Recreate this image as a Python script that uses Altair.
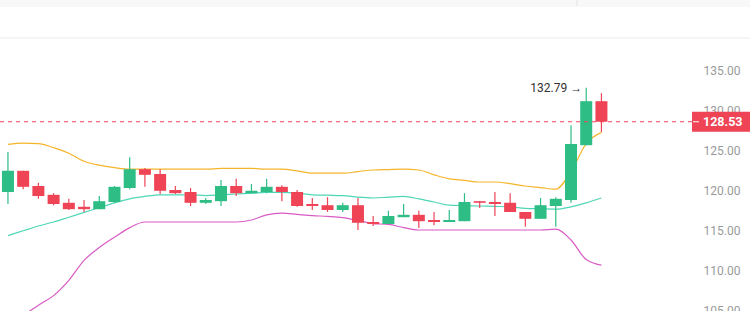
import altair as alt
import pandas as pd

# ---- data ----
opens  = [119.75, 122.4, 120.5, 119.4, 118.4, 117.9, 117.6, 118.5, 120.25, 122.6,
          122.0, 120.0, 119.75, 118.4, 118.6, 120.5, 119.6, 119.75, 120.4, 119.75,
          118.25, 118.1, 117.5, 118.1, 116.0, 115.75, 116.6, 116.9, 116.25, 116.0,
          116.1, 118.6, 118.5, 118.4, 117.25, 116.4, 118.0, 118.75, 125.6, 131.1]
highs  = [124.75, 122.4, 120.9, 119.6, 118.9, 118.75, 119.25, 120.5, 124.1, 122.75,
          122.6, 120.5, 120.25, 119.0, 121.25, 121.4, 120.75, 121.4, 120.6, 120.0,
          119.0, 119.1, 118.4, 119.0, 116.75, 117.4, 118.25, 117.4, 117.25, 117.5,
          119.6, 118.6, 119.75, 119.6, 117.25, 119.0, 119.1, 128.1, 132.79, 132.1]
lows   = [118.25, 120.1, 118.9, 118.1, 117.5, 117.25, 117.6, 118.4, 120.1, 120.4,
          119.5, 119.5, 118.0, 118.25, 118.0, 119.25, 119.6, 119.6, 118.6, 117.9,
          117.5, 117.25, 117.25, 115.0, 115.5, 115.75, 116.6, 115.25, 115.6, 116.0,
          116.1, 117.75, 116.75, 117.25, 115.4, 116.4, 115.4, 118.4, 125.6, 127.25]
closes = [122.4, 120.4, 119.25, 118.25, 117.6, 117.6, 118.6, 120.4, 122.6, 121.9,
          119.9, 119.6, 118.4, 118.75, 120.5, 119.6, 119.9, 120.4, 119.75, 118.0,
          118.0, 117.5, 118.1, 115.9, 115.75, 116.75, 116.9, 116.1, 116.0, 116.25,
          118.5, 118.4, 118.25, 117.25, 116.4, 118.1, 118.9, 125.75, 131.1, 128.53]
upper  = [125.7, 125.85, 125.8, 125.3, 124.6, 123.6, 123.1, 122.8, 122.6, 122.6,
          122.6, 122.6, 122.6, 122.6, 122.7, 122.7, 122.7, 122.6, 122.6, 122.4,
          122.1, 122.1, 122.1, 122.3, 122.5, 122.55, 122.6, 122.5, 121.9, 121.4,
          121.2, 121.0, 121.0, 120.8, 120.5, 120.3, 120.1, 122.3, 125.8, 127.2]
middle = [114.3, 114.9, 115.5, 116.0, 116.6, 117.2, 117.8, 118.4, 118.9, 119.2,
          119.4, 119.4, 119.4, 119.3, 119.4, 119.5, 119.6, 119.7, 119.7, 119.6,
          119.4, 119.35, 119.3, 119.1, 119.0, 119.1, 119.2, 118.9, 118.5, 118.1,
          118.05, 118.0, 117.95, 117.9, 117.7, 117.65, 117.6, 117.9, 118.4, 119.0]
lower  = [103.2, 104.3, 105.6, 106.8, 108.7, 111.2, 112.8, 114.1, 115.3, 116.0,
          116.0, 116.0, 116.0, 116.0, 116.0, 116.0, 116.25, 116.9, 117.1, 116.95,
          116.8, 116.7, 116.55, 116.2, 115.8, 115.7, 115.3, 115.0, 115.0, 115.0,
          115.0, 115.0, 115.0, 115.0, 115.0, 115.0, 115.1, 113.75, 111.3, 110.6]
y_ticks = [105, 110, 115, 120, 125, 130, 135]

GREEN = "#2EBD85"
RED = "#EE4456"
ORANGE = "#F5B52A"
TEAL = "#4FD6B6"
MAGENTA = "#D95BC4"

df = pd.DataFrame({
    "i": list(range(len(opens))),
    "open": opens, "high": highs, "low": lows, "close": closes,
    "upper": upper, "middle": middle, "lower": lower,
})
df["dir"] = ["up" if c >= o else "down" for o, c in zip(opens, closes)]

last_df = pd.DataFrame({"price": [closes[-1]]})
hi_idx = max(range(len(highs)), key=lambda k: highs[k])
hi_df = pd.DataFrame({"i": [hi_idx], "high": [highs[hi_idx]],
                      "label": [f"{highs[hi_idx]:.2f} \u2192"]})
one = pd.DataFrame({"k": [0]})

W, H = 695, 273
xs = alt.Scale(domain=[-0.194, 44.82], nice=False, zero=False)
ys = alt.Scale(domain=[104.875, 139], nice=False, zero=False)
X = alt.X("i:Q", scale=xs, axis=None)
yaxis = alt.Axis(orient="right", values=y_ticks, format=".2f", labelColor="#9a9a9a",
                 labelFont="Roboto", labelFontSize=12, ticks=False, domain=False,
                 grid=False, labelPadding=8, labelAlign="left", labelBaseline="middle",
                 labelOverlap=False, title=None)
color = alt.Color("dir:N", scale=alt.Scale(domain=["up", "down"], range=[GREEN, RED]),
                  legend=None)

base = alt.Chart(df)

top_band = alt.Chart(one).mark_rect(color="#f8f8f8").encode(
    x=alt.value(0), x2=alt.value(750), y=alt.value(-38), y2=alt.value(-31))
top_div = alt.Chart(one).mark_rule(color="#e2e2e2", strokeWidth=1).encode(
    x=alt.value(577), y=alt.value(-38), y2=alt.value(-32))
top_line = alt.Chart(one).mark_rule(color="#ececec", strokeWidth=1).encode(
    x=alt.value(0), x2=alt.value(750), y=alt.value(0))

up_line = base.mark_line(color=ORANGE, strokeWidth=1.2, interpolate="monotone").encode(
    x=X, y=alt.Y("upper:Q", scale=ys, axis=yaxis))
mid_line = base.mark_line(color=TEAL, strokeWidth=1.2, interpolate="monotone").encode(
    x=X, y=alt.Y("middle:Q", scale=ys))
low_line = base.mark_line(color=MAGENTA, strokeWidth=1.2, interpolate="monotone").encode(
    x=X, y=alt.Y("lower:Q", scale=ys))

wicks = base.mark_rule(strokeWidth=1.2).encode(
    x=X, y=alt.Y("low:Q", scale=ys), y2="high:Q", color=color)
bodies = base.mark_bar(size=12).encode(
    x=X, y=alt.Y("open:Q", scale=ys), y2="close:Q", color=color)

price_line = alt.Chart(last_df).mark_rule(color=RED, strokeDash=[4, 4], strokeWidth=1).encode(
    x=alt.value(0), x2=alt.value(692), y=alt.Y("price:Q", scale=ys))
price_box = alt.Chart(last_df).mark_tick(color=RED, thickness=20, size=60,
                                         orient="horizontal", opacity=1).encode(
    x=alt.value(722), y=alt.Y("price:Q", scale=ys))
price_dash = alt.Chart(last_df).mark_tick(color="white", thickness=1, size=6,
                                          orient="horizontal", opacity=1).encode(
    x=alt.value(696), y=alt.Y("price:Q", scale=ys))
price_text = alt.Chart(last_df).mark_text(color="white", font="Roboto", fontSize=12.5,
                                          fontWeight="bold", align="left",
                                          baseline="middle").encode(
    x=alt.value(703), y=alt.Y("price:Q", scale=ys),
    text=alt.Text("price:Q", format=".2f"))

hi_text = alt.Chart(hi_df).mark_text(color="#333333", font="Roboto", fontSize=12,
                                     align="right", baseline="middle", dx=-4).encode(
    x=X, y=alt.Y("high:Q", scale=ys), text="label:N")

chart = alt.layer(
    top_band, top_div, top_line,
    up_line, mid_line, low_line,
    wicks, bodies,
    price_line, price_box, price_dash, price_text, hi_text,
).properties(
    width=W, height=H,
    autosize=alt.AutoSizeParams(type="none"),
    padding={"left": 0, "top": 38, "right": 55, "bottom": 0},
    background="white",
).configure_view(stroke=None)

chart.save("out.html", embed_options={"renderer": "svg", "actions": False})
